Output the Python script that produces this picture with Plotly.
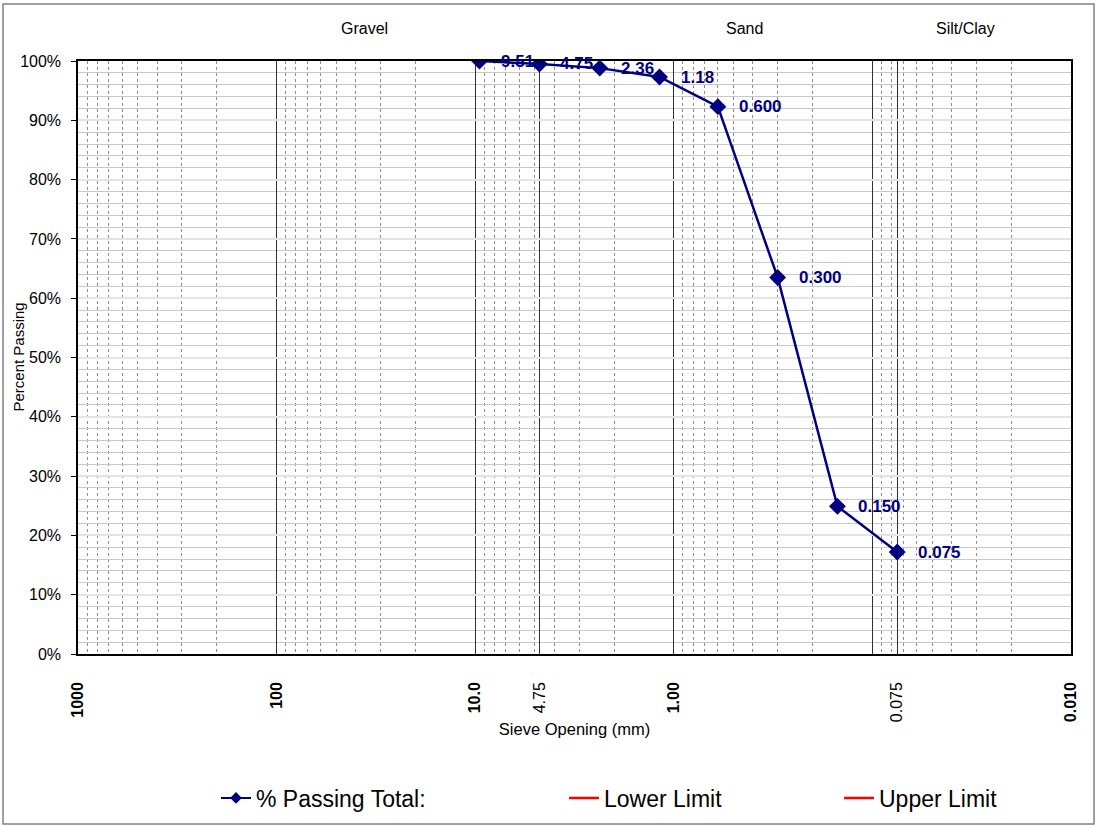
import math
import plotly.graph_objects as go

# Data
sieve_mm = [9.51, 4.75, 2.36, 1.18, 0.600, 0.300, 0.150, 0.075]
pct_passing = [100.0, 99.5, 98.8, 97.3, 92.3, 63.5, 24.9, 17.2]
point_labels = ["9.51", "4.75", "2.36", "1.18", "0.600", "0.300", "0.150", "0.075"]

x_tickvals = [1000, 100, 10, 4.75, 1, 0.1, 0.075, 0.01]
x_ticktext = ["<b>1000</b>", "<b>100</b>", "<b>10.0</b>", "4.75", "<b>1.00</b>", "", "0.075", "<b>0.010</b>"]

zone_names = ["Gravel", "Sand", "Silt/Clay"]
zone_x = [35.9, 0.443, 0.0338]

NAVY = "#000080"
RED = "#ff0000"
FONT = "Arial, Liberation Sans, sans-serif"

fig = go.Figure()
fig.add_trace(go.Scatter(
    x=sieve_mm, y=pct_passing, mode="lines+markers",
    name="% Passing Total:",
    line=dict(color=NAVY, width=2.5),
    marker=dict(symbol="diamond", size=13, color=NAVY),
    showlegend=False,
))
# legend entries
fig.add_trace(go.Scatter(x=[None], y=[None], mode="lines+markers", name="% Passing Total:",
                         line=dict(color=NAVY, width=2),
                         marker=dict(symbol="diamond", size=9, color=NAVY),
                         legend="legend", showlegend=True))
fig.add_trace(go.Scatter(x=[None], y=[None], mode="lines", name="Lower Limit",
                         line=dict(color=RED, width=2.5), legend="legend2", showlegend=True))
fig.add_trace(go.Scatter(x=[None], y=[None], mode="lines", name="Upper Limit",
                         line=dict(color=RED, width=2.5), legend="legend3", showlegend=True))

for xv, yv, t in zip(sieve_mm, pct_passing, point_labels):
    fig.add_annotation(x=math.log10(xv), y=yv, text="<b>%s</b>" % t,
                       showarrow=False, xanchor="left", yanchor="middle", xshift=19,
                       font=dict(family=FONT, size=17, color=NAVY))

for name, xv in zip(zone_names, zone_x):
    fig.add_annotation(x=math.log10(xv), y=1.055, yref="paper", text=name,
                       showarrow=False, xanchor="center", yanchor="middle",
                       font=dict(family=FONT, size=16, color="#000000"))

# y-axis title
fig.add_annotation(x=-0.0604, y=0.5, xref="paper", yref="paper", text="Percent Passing",
                   textangle=-90, showarrow=False, xanchor="center", yanchor="middle",
                   font=dict(family=FONT, size=15, color="#000000"))

# outer frame
fig.add_shape(type="rect", xref="paper", yref="paper",
              x0=-0.0755, x1=1.0232, y0=-0.2867, y1=1.0961,
              line=dict(color="#808080", width=1.5), layer="below")

legend_font = dict(family=FONT, size=23, color="#000000")
leg_y = 1 - 798 / 826

fig.update_layout(
    width=1099, height=826,
    margin=dict(l=78, r=28, t=61, b=172, autoexpand=False),
    paper_bgcolor="white", plot_bgcolor="white",
    showlegend=True,
    font=dict(family=FONT, size=15, color="#000000"),
    xaxis=dict(
        type="log", range=[3, -2], automargin=False,
        tickmode="array", tickvals=x_tickvals, ticktext=x_ticktext,
        tickangle=-90, ticks="", ticklabelstandoff=20,
        showgrid=True, gridcolor="#303030", gridwidth=1,
        showline=True, linecolor="#000000", linewidth=1.5, mirror=True,
        zeroline=False,
        tickfont=dict(family=FONT, size=16, color="#000000"),
        title=dict(text="Sieve Opening (mm)", standoff=2,
                   font=dict(family=FONT, size=16.5)),
        minor=dict(dtick="D1", showgrid=True, gridcolor="#8c8c8c",
                   griddash="dot", gridwidth=1, ticks=""),
    ),
    yaxis=dict(
        range=[0, 100], dtick=10, ticksuffix="%", automargin=False,
        ticks="outside", ticklen=5, tickcolor="#000000", ticklabelstandoff=7,
        showgrid=True, gridcolor="#e4e4e4", gridwidth=2,
        showline=True, linecolor="#000000", linewidth=1.5, mirror=True,
        zeroline=False,
        tickfont=dict(family=FONT, size=16, color="#000000"),
        minor=dict(dtick=2, showgrid=True, gridcolor="#c8c8c8", gridwidth=1, ticks=""),
    ),
    legend=dict(x=216 / 1099, y=leg_y, xref="container", yref="container",
                xanchor="left", yanchor="middle", orientation="h",
                font=legend_font, bgcolor="rgba(0,0,0,0)"),
    legend2=dict(x=564 / 1099, y=leg_y, xref="container", yref="container",
                 xanchor="left", yanchor="middle", orientation="h",
                 font=legend_font, bgcolor="rgba(0,0,0,0)"),
    legend3=dict(x=839 / 1099, y=leg_y, xref="container", yref="container",
                 xanchor="left", yanchor="middle", orientation="h",
                 font=legend_font, bgcolor="rgba(0,0,0,0)"),
)

fig.write_html("out.html", config={"displayModeBar": False},
               post_script="document.body.style.margin='0px';")
